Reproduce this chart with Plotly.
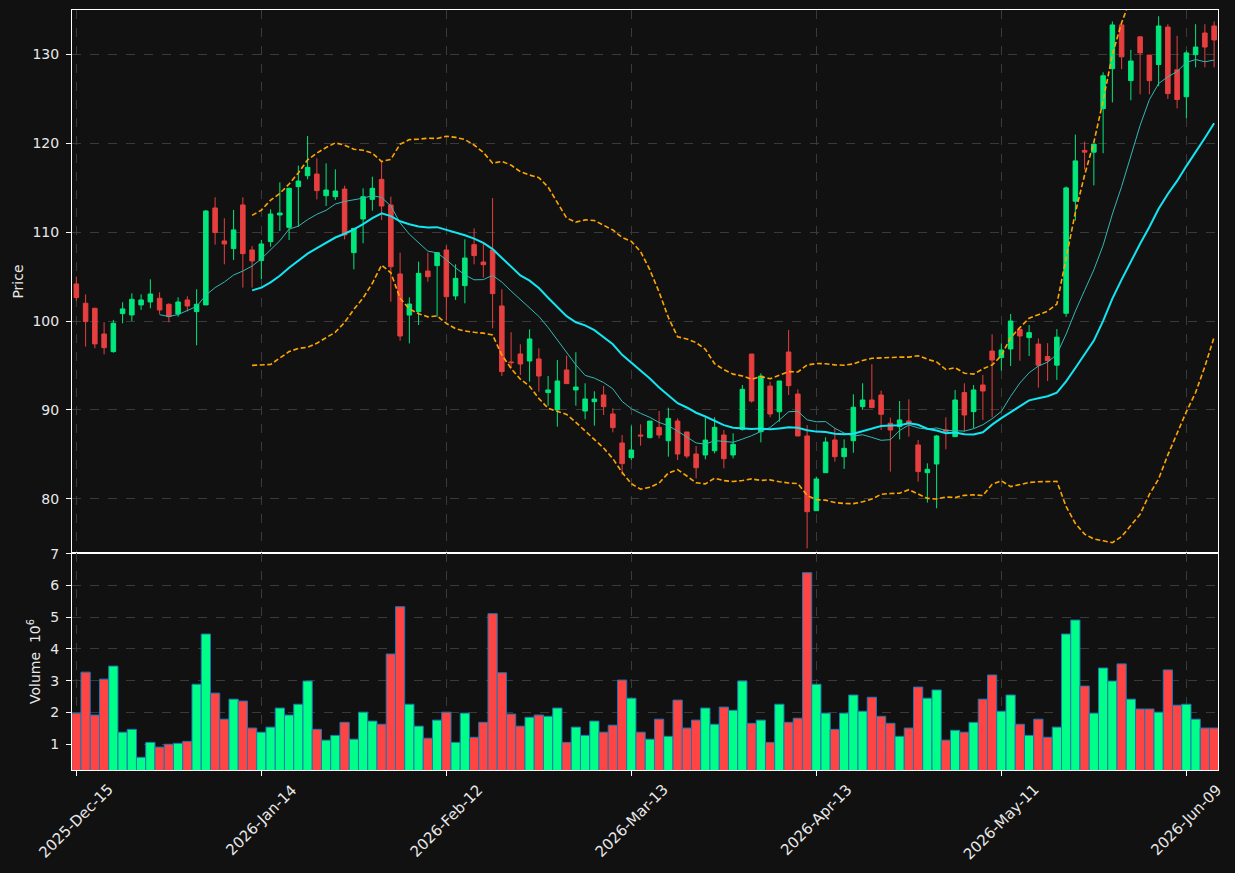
import plotly.graph_objects as go
import pandas as pd

# ---------------- data ----------------
tick_labels = ["2025-Dec-15", "2026-Jan-14", "2026-Feb-12", "2026-Mar-13",
               "2026-Apr-13", "2026-May-11", "2026-Jun-09"]

opens = [104.17, 102.0, 101.43, 98.54, 96.55, 100.83, 100.68, 101.81, 102.14, 102.56,
         101.88, 100.79, 102.37, 101.06, 101.81, 112.72, 109.01, 108.15, 113.06, 108.0,
         106.8, 108.93, 111.93, 110.54, 115.12, 116.35, 116.54, 114.1, 113.99, 114.85,
         107.69, 111.48, 113.69, 115.94, 113.05, 105.29, 100.67, 101.05, 105.62, 106.23,
         107.99, 102.82, 103.98, 108.59, 106.64, 107.99, 101.69, 95.39, 96.29, 95.5,
         95.73, 91.94, 89.99, 94.49, 92.24, 89.87, 90.92, 91.67, 89.54, 86.27,
         84.62, 87.17, 86.87, 88.03, 86.53, 88.74, 87.51, 85.03, 84.92, 85.4,
         87.17, 84.92, 87.81, 96.28, 87.54, 92.68, 89.79, 96.51, 91.78, 87.06,
         78.65, 82.93, 86.61, 84.73, 86.53, 90.36, 91.11, 91.67, 88.49, 88.11,
         88.75, 86.05, 82.93, 83.91, 87.74, 86.99, 91.94, 89.8, 92.8, 96.62,
         95.88, 96.85, 99.06, 98.13, 97.4, 96.0, 95.03, 100.87, 113.48, 119.2,
         119.0, 123.9, 128.39, 133.32, 127.05, 131.98, 129.93, 128.86, 133.08, 128.27,
         125.24, 129.97, 132.41, 133.2]

highs = [105.0, 103.0, 101.5, 99.86, 100.12, 102.11, 103.12, 103.0, 104.69, 103.23,
         101.99, 102.67, 102.78, 103.57, 112.5, 113.92, 111.56, 112.5, 113.92, 108.45,
         109.12, 112.57, 115.6, 115.0, 117.48, 120.82, 118.31, 117.74, 117.07, 115.23,
         110.43, 114.93, 116.24, 117.93, 113.99, 107.69, 102.66, 106.68, 107.69, 107.69,
         108.51, 106.38, 109.19, 110.43, 108.74, 113.84, 103.57, 98.73, 97.38, 99.06,
         96.93, 93.81, 95.61, 96.1, 96.48, 92.99, 92.09, 92.69, 90.17, 87.17,
         88.22, 88.37, 88.74, 89.87, 90.24, 89.04, 87.51, 85.93, 89.12, 89.16,
         87.73, 87.36, 92.8, 96.28, 94.11, 93.17, 93.25, 98.99, 92.31, 88.29,
         82.48, 86.91, 87.92, 86.68, 91.75, 92.99, 95.13, 92.16, 89.12, 91.0,
         91.19, 86.61, 83.98, 87.17, 89.16, 92.24, 92.99, 92.8, 93.93, 98.5,
         97.49, 100.79, 99.06, 99.55, 98.03, 97.5, 99.09, 115.14, 120.98, 120.19,
         119.91, 127.99, 133.71, 133.32, 130.52, 131.98, 129.93, 134.3, 133.4, 132.1,
         130.44, 133.4, 133.4, 133.71]

lows = [102.26, 97.12, 96.93, 96.25, 96.44, 99.74, 100.0, 101.24, 101.43, 100.79,
        99.86, 100.49, 101.06, 97.27, 101.81, 108.6, 106.38, 106.87, 103.76, 103.76,
        104.69, 108.36, 110.13, 109.11, 110.62, 115.94, 113.69, 112.94, 113.62, 109.19,
        105.81, 108.74, 112.42, 111.37, 102.17, 97.78, 97.48, 99.55, 104.42, 100.49,
        100.11, 102.37, 101.99, 106.38, 104.88, 99.18, 93.81, 94.68, 93.92, 93.17,
        92.05, 90.47, 88.11, 92.95, 90.47, 88.94, 88.22, 89.42, 87.47, 82.67,
        84.36, 85.97, 86.8, 86.79, 84.73, 84.35, 84.54, 82.29, 84.43, 85.1,
        83.42, 84.54, 87.66, 90.81, 86.34, 89.16, 88.67, 91.67, 87.06, 74.41,
        78.65, 82.93, 84.17, 83.35, 85.18, 89.99, 90.25, 87.73, 83.05, 86.68,
        86.99, 81.92, 79.56, 78.92, 85.56, 86.99, 87.55, 87.92, 88.86, 89.16,
        94.41, 94.94, 95.54, 96.06, 92.5, 93.25, 93.37, 100.47, 111.31, 117.03,
        115.26, 118.88, 124.6, 128.35, 124.84, 125.51, 125.51, 126.42, 124.99, 123.93,
        122.83, 128.55, 128.55, 128.55]

closes = [102.63, 99.93, 97.42, 97.0, 99.74, 101.36, 102.44, 102.37, 103.04, 101.24,
          100.49, 102.14, 101.69, 101.88, 112.38, 109.95, 108.67, 110.25, 107.58, 106.76,
          108.67, 112.04, 112.15, 114.93, 115.75, 117.29, 114.67, 114.74, 114.63, 109.68,
          110.43, 113.99, 114.93, 112.94, 106.11, 98.31, 101.91, 105.36, 104.99, 107.69,
          102.74, 104.8, 107.09, 107.36, 106.34, 103.08, 94.3, 95.31, 95.16, 97.98,
          93.81, 92.24, 93.25, 92.95, 92.57, 91.22, 91.22, 90.36, 88.0, 83.95,
          85.48, 87.06, 88.74, 87.17, 89.04, 85.03, 84.8, 83.49, 86.6, 88.03,
          84.5, 86.12, 92.31, 90.99, 93.81, 89.53, 93.25, 92.72, 87.06, 78.54,
          82.22, 86.38, 84.73, 85.67, 90.29, 91.11, 90.25, 89.5, 87.73, 88.86,
          88.49, 83.05, 83.31, 87.06, 87.55, 91.11, 89.42, 92.24, 92.12, 95.61,
          96.74, 100.0, 98.31, 98.69, 95.03, 95.54, 98.18, 114.98, 118.02, 119.0,
          119.91, 127.6, 133.32, 129.73, 129.26, 130.17, 127.05, 133.2, 125.59, 124.92,
          130.17, 130.83, 130.83, 131.63]

volume_millions = [1.98, 3.27, 1.92, 3.05, 3.46, 1.38, 1.47, 0.59, 1.06, 0.91,
                   1.0, 1.03, 1.09, 2.89, 4.47, 2.61, 1.79, 2.42, 2.36, 1.51,
                   1.38, 1.54, 2.14, 1.92, 2.26, 2.99, 1.47, 1.13, 1.28, 1.69,
                   1.16, 2.01, 1.73, 1.63, 3.84, 5.33, 2.26, 1.57, 1.19, 1.76,
                   2.01, 1.06, 1.98, 1.22, 1.69, 5.11, 3.25, 1.95, 1.57, 1.85,
                   1.92, 1.88, 2.14, 1.06, 1.54, 1.28, 1.73, 1.38, 1.6, 3.02,
                   2.45, 1.38, 1.16, 1.79, 1.25, 2.39, 1.51, 1.76, 2.14, 1.63,
                   2.17, 2.07, 2.99, 1.66, 1.76, 1.06, 2.26, 1.69, 1.82, 6.4,
                   2.89, 1.98, 1.47, 1.98, 2.55, 2.04, 2.48, 1.88, 1.66, 1.25,
                   1.51, 2.8, 2.45, 2.71, 1.13, 1.44, 1.38, 1.69, 2.42, 3.18,
                   2.04, 2.55, 1.63, 1.28, 1.79, 1.22, 1.54, 4.47, 4.91, 2.83,
                   1.98, 3.4, 2.99, 3.53, 2.42, 2.11, 2.11, 2.01, 3.34, 2.23,
                   2.26, 1.79, 1.51, 1.51]

# ---------------- derived indicators ----------------
n = len(closes)
idx = list(range(n))
close_s = pd.Series(closes)
ma10 = close_s.rolling(10).mean()
ma20 = close_s.rolling(20).mean()
sd20 = close_s.rolling(20).std(ddof=0)
bb_up = ma20 + 2 * sd20
bb_lo = ma20 - 2 * sd20

tick_pos = list(range(0, n, 20))[:len(tick_labels)]

# ---------------- styling ----------------
BG = "#111111"
TXT = "#e8e8e8"
GRID = "#3a3a3a"
UP_VOL, DN_VOL = "#00ff88", "#ff4444"
UP_C, DN_C = "#02e77c", "#e73f3f"
vol_colors = [UP_VOL if c >= o else DN_VOL for o, c in zip(opens, closes)]

fig = go.Figure()

fig.add_trace(go.Bar(
    x=idx, y=volume_millions, width=1.0,
    marker=dict(color=vol_colors, line=dict(color="#1f77b4", width=1)),
    xaxis="x2", yaxis="y2", hoverinfo="skip"))

fig.add_trace(go.Candlestick(
    x=idx, open=opens, high=highs, low=lows, close=closes,
    increasing=dict(line=dict(color=UP_C, width=1), fillcolor=UP_C),
    decreasing=dict(line=dict(color=DN_C, width=1), fillcolor=DN_C),
    whiskerwidth=0, xaxis="x", yaxis="y"))

fig.add_trace(go.Scatter(x=idx, y=bb_up, mode="lines",
                         line=dict(color="#ffa500", width=1.6, dash="5px,2.6px"),
                         xaxis="x", yaxis="y"))
fig.add_trace(go.Scatter(x=idx, y=bb_lo, mode="lines",
                         line=dict(color="#ffa500", width=1.6, dash="5px,2.6px"),
                         xaxis="x", yaxis="y"))
fig.add_trace(go.Scatter(x=idx, y=ma10, mode="lines",
                         line=dict(color="#33b8b4", width=1),
                         xaxis="x", yaxis="y"))
fig.add_trace(go.Scatter(x=idx, y=ma20, mode="lines",
                         line=dict(color="#12e6f2", width=2),
                         xaxis="x", yaxis="y"))

xr = [-0.47, 123.42]
split = 217 / 760

common_x = dict(range=xr, tickvals=tick_pos, showgrid=True, gridcolor=GRID,
                griddash="dash", gridwidth=1, showline=True, linecolor="#ffffff",
                linewidth=1, mirror=True, zeroline=False, showticklabels=False)
common_y = dict(showgrid=True, gridcolor=GRID, griddash="dash", gridwidth=1,
                showline=True, linecolor="#ffffff", linewidth=1, mirror=True,
                zeroline=False, ticks="outside", ticklen=5, tickcolor="#ffffff",
                ticklabelstandoff=4, automargin=False,
                tickfont=dict(size=14, color=TXT))

# x tick labels centred under their ticks, rotated 45 degrees
annotations = [
    dict(x=p, xref="x2", y=0, yref="paper", text=lab, textangle=-45,
         showarrow=False, xanchor="center", yanchor="top", yshift=-8,
         font=dict(size=15, color=TXT, family="DejaVu Sans"))
    for p, lab in zip(tick_pos, tick_labels)
]

fig.update_layout(
    width=1235, height=873,
    margin=dict(l=72, r=17, t=10, b=103, autoexpand=False),
    paper_bgcolor=BG, plot_bgcolor=BG,
    showlegend=False,
    font=dict(family="DejaVu Sans", size=14, color=TXT),
    boxgap=0.3, boxgroupgap=0.3,
    annotations=annotations,
    xaxis=dict(domain=[0, 1], anchor="y", ticks="",
               rangeslider=dict(visible=False), **common_x),
    yaxis=dict(domain=[split, 1], anchor="x", range=[73.89, 135.0], dtick=10,
               title=dict(text="Price", standoff=5, font=dict(size=14, color=TXT)),
               **common_y),
    xaxis2=dict(domain=[0, 1], anchor="y2",
                ticks="outside", ticklen=5, tickcolor="#ffffff", **common_x),
    yaxis2=dict(domain=[0, split], anchor="x2", range=[0.19, 7.02],
                tickvals=[1, 2, 3, 4, 5, 6, 7],
                title=dict(text="Volume  10<sup>6</sup>", standoff=6,
                           font=dict(size=14, color=TXT)),
                **common_y),
)

fig.write_html("out.html")
